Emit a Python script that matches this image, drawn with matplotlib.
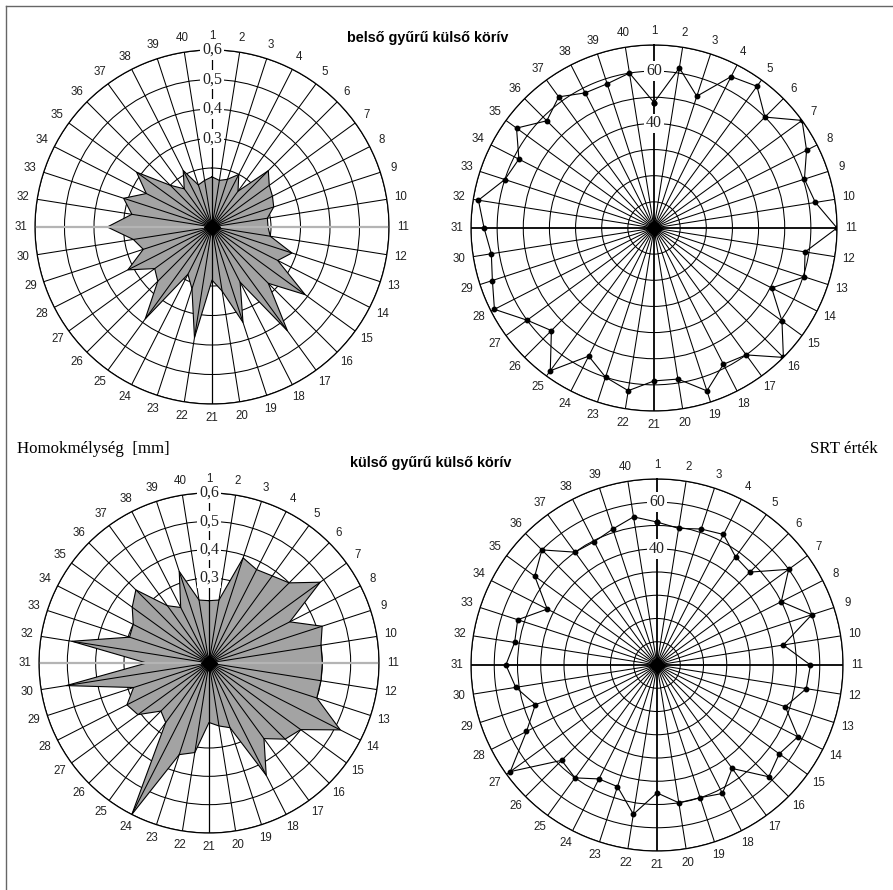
import numpy as np
import matplotlib
matplotlib.use("Agg")
import matplotlib.pyplot as plt
from matplotlib.lines import Line2D

# ---------------- data ----------------
directions = list(range(1, 41))
dir_labels = [str(d) for d in directions]

# sand depth [mm], inner ring outer arc (top-left)
sand_inner = [0.17, 0.16, 0.17, 0.20, 0.15, 0.27, 0.24, 0.23, 0.22, 0.19,
              0.19, 0.20, 0.285, 0.25, 0.39, 0.27, 0.435, 0.21, 0.34, 0.22,
              0.18, 0.38, 0.22, 0.18, 0.385, 0.26, 0.24, 0.32, 0.245, 0.27,
              0.355, 0.275, 0.315, 0.25, 0.316, 0.20, 0.16, 0.215, 0.15, 0.16]
# sand depth [mm], outer ring outer arc (bottom-left)
sand_outer = [0.22, 0.225, 0.39, 0.37, 0.38, 0.40, 0.485, 0.32, 0.42, 0.40,
              0.40, 0.40, 0.40, 0.52, 0.40, 0.38, 0.33, 0.445, 0.24, 0.225,
              0.21, 0.32, 0.34, 0.60, 0.26, 0.24, 0.31, 0.325, 0.28, 0.51,
              0.22, 0.49, 0.295, 0.30, 0.335, 0.365, 0.25, 0.22, 0.34, 0.225]
# SRT values, inner ring (top-right)
srt_inner = [48, 62, 53, 65, 67, 60, 70, 65.5, 60.5, 62.5,
             70, 58.5, 60.5, 50.5, 60.5, 70, 60, 58.5, 65.5, 58.5,
             58.5, 63, 60, 55, 67.5, 55.5, 60, 68.5, 65, 63,
             65, 68, 60, 58, 65, 58, 62, 58, 58, 60]
# SRT values, outer ring (bottom-right)
srt_outer = [51.5, 49.5, 51.5, 53, 47.5, 46.5, 60, 50, 60, 45,
             56, 55, 48, 58, 55, 58, 45, 52, 50, 50,
             45, 55, 45, 45, 50, 48, 68, 53, 45, 51.5,
             55, 52, 53, 43, 55, 60, 50, 49.5, 51.5, 54.5]

sand_rings = [0.1, 0.2, 0.3, 0.4, 0.5, 0.6]
sand_ring_labels = ["0,3", "0,4", "0,5", "0,6"]
sand_label_vals = [0.3, 0.4, 0.5, 0.6]
srt_label_vals = [40, 60]
srt_ring_labels = ["40", "60"]

title_top = "belső gyűrű külső körív"
title_bottom = "külső gyűrű külső körív"
ylabel_left = "Homokmélység  [mm]"
ylabel_right = "SRT érték"

# ---------------- figure ----------------
W, H = 893, 890
fig = plt.figure(figsize=(W / 100, H / 100), dpi=100)
fig.patch.set_facecolor("white")

SANS = ["Liberation Sans", "DejaVu Sans"]
SERIF = ["Liberation Serif", "DejaVu Serif"]


def make_ax(cx, cy, rad):
    left = (cx - rad) / W
    bottom = 1 - (cy + rad) / H
    ax = fig.add_axes([left, bottom, 2 * rad / W, 2 * rad / H], projection="polar")
    ax.set_theta_zero_location("N")
    ax.set_theta_direction(-1)
    ax.set_facecolor("white")
    return ax


theta_deg = np.array([(d - 1) * 9.0 for d in directions])
theta = np.deg2rad(theta_deg)


def setup_grid(ax, rmin, rmax, rings, rad_px, hline_color, axis_lw):
    ax.set_ylim(rmin, rmax)
    ax.set_xticks(theta)
    ax.set_xticklabels([])
    ax.set_yticks(rings)
    ax.set_yticklabels([])
    ax.grid(True, color="black", lw=0.75)
    ax.spines["polar"].set_color("black")
    ax.spines["polar"].set_linewidth(0.9)
    ax.spines["polar"].set_zorder(3)
    # rings below the filled area, spokes above it
    ax.yaxis.set_zorder(0.5)
    ax.xaxis.set_zorder(2.5)
    ticks = ax.xaxis.get_major_ticks()
    for i, t in enumerate(ticks):
        t.tick1line.set_visible(False)
        t.tick2line.set_visible(False)
        if i in (10, 30):
            t.gridline.set_color(hline_color)
            t.gridline.set_linewidth(axis_lw)
        if i in (0, 20):
            t.gridline.set_linewidth(axis_lw if hline_color == "black" else 0.9)
    for t in ax.yaxis.get_major_ticks():
        t.tick1line.set_visible(False)
        t.tick2line.set_visible(False)
    # direction labels
    rl = rmax + (14.0 / rad_px) * (rmax - rmin)
    for th, lab in zip(theta, dir_labels):
        ax.text(th, rl, lab, ha="center", va="center", fontsize=8.3,
                family=SANS, color="#222222", clip_on=False)
    # centre blob
    ax.plot([0], [rmin], marker="D", ms=8, color="black", zorder=5)


def ring_labels(ax, vals, labs):
    for v, lab in zip(vals, labs):
        ax.text(0, v, lab, ha="center", va="center", fontsize=11.5,
                family=SERIF, color="#222222", zorder=6,
                bbox=dict(boxstyle="square,pad=0.12", fc="white", ec="none"))


def close(vals):
    return np.append(theta, theta[0]), np.append(vals, vals[0])


# top-left
ax1 = make_ax(212, 227, 177)
setup_grid(ax1, 0, 0.6, sand_rings, 177, "#b4b4b4", 1.6)
t, r = close(sand_inner)
ax1.fill(t, r, facecolor="#a3a3a3", edgecolor="none", zorder=1)
ax1.plot(t, r, color="black", lw=0.8, zorder=2)
ring_labels(ax1, sand_label_vals, sand_ring_labels)

# bottom-left
ax3 = make_ax(209, 663, 170)
setup_grid(ax3, 0, 0.6, sand_rings, 170, "#b4b4b4", 1.6)
t, r = close(sand_outer)
ax3.fill(t, r, facecolor="#a3a3a3", edgecolor="none", zorder=1)
ax3.plot(t, r, color="black", lw=0.8, zorder=2)
ring_labels(ax3, sand_label_vals, sand_ring_labels)

# top-right
ax2 = make_ax(654, 228, 183)
setup_grid(ax2, 0, 70, [10, 20, 30, 40, 50, 60, 70], 183, "black", 1.3)
t, r = close(srt_inner)
ax2.plot(t, r, color="black", lw=0.8, marker="o", ms=3.2, zorder=4)
ring_labels(ax2, srt_label_vals, srt_ring_labels)

# bottom-right
ax4 = make_ax(657, 665, 186)
setup_grid(ax4, -10, 70, [0, 10, 20, 30, 40, 50, 60, 70], 186, "black", 1.3)
t, r = close(srt_outer)
ax4.plot(t, r, color="black", lw=0.8, marker="o", ms=3.2, zorder=4)
ring_labels(ax4, srt_label_vals, srt_ring_labels)

# titles / labels
fig.text(428 / W, 1 - 38 / H, title_top, ha="center", va="center",
         fontsize=10.4, fontweight="bold", family=SANS)
fig.text(431 / W, 1 - 463 / H, title_bottom, ha="center", va="center",
         fontsize=10.4, fontweight="bold", family=SANS)
fig.text(17 / W, 1 - 449 / H, ylabel_left, ha="left", va="center",
         fontsize=12.2, family=SERIF)
fig.text(878 / W, 1 - 449 / H, ylabel_right, ha="right", va="center",
         fontsize=12.2, family=SERIF)

# frame
fig.add_artist(Line2D([6 / W, 1], [1 - 6 / H, 1 - 6 / H], color="#666666", lw=1.0,
                      transform=fig.transFigure))
fig.add_artist(Line2D([6 / W, 6 / W], [0, 1 - 6 / H], color="#666666", lw=1.0,
                      transform=fig.transFigure))

fig.savefig("out.png", dpi=100, facecolor="white")
